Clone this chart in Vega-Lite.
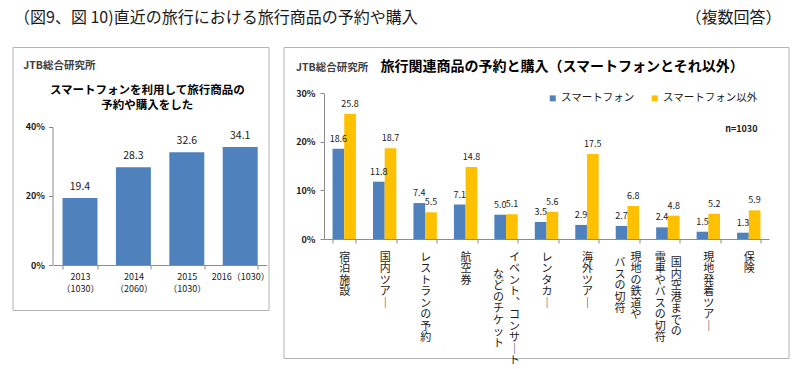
{
  "$schema": "https://vega.github.io/schema/vega-lite/v6.json",
  "padding": {"left": 11.5, "top": 8, "right": 0, "bottom": 0},
  "spacing": 19,
  "bounds": "flush",
  "resolve": {"scale": {"color": "independent"}, "legend": {"color": "independent"}},
  "config": {
    "font": "Noto Sans CJK JP",
    "view": {"stroke": null},
    "axis": {"domainColor": "#8c8c8c", "tickColor": "#8c8c8c", "labelColor": "#1a1a1a", "grid": false, "labelFont": "Noto Sans CJK JP", "titleFont": "Noto Sans CJK JP"},
    "text": {"color": "#1a1a1a"}
  },
  "vconcat": [
    {
      "width": 769,
      "height": 20,
      "layer": [
        {
          "data": {"values": [{"pos": 0, "t": "（図9、図 10)直近の旅行における旅行商品の予約や購入"}]},
          "mark": {"type": "text", "align": "left", "fontSize": 16, "dx": 1.5, "color": "#1a1a1a"},
          "encoding": {
            "x": {"field": "pos", "type": "quantitative", "scale": {"domain": [0, 1]}, "axis": null},
            "text": {"field": "t"}
          }
        },
        {
          "data": {"values": [{"pos": 1, "t": "（複数回答）"}]},
          "mark": {"type": "text", "align": "right", "fontSize": 16, "color": "#1a1a1a"},
          "encoding": {
            "x": {"field": "pos", "type": "quantitative", "scale": {"domain": [0, 1]}, "axis": null},
            "text": {"field": "t"}
          }
        }
      ]
    },
    {
      "spacing": 15,
      "bounds": "flush",
      "resolve": {"scale": {"color": "independent"}, "legend": {"color": "independent"}},
      "hconcat": [
        {
          "width": 256,
          "height": 263,
          "view": {"stroke": "#b4b4b4"},
          "title": {"text": ["スマートフォンを利用して旅行商品の", "予約や購入をした"], "fontSize": 11.5, "fontWeight": "bold", "anchor": "middle", "dx": 6.8, "offset": -64, "lineHeight": 15, "color": "#000000"},
          "data": {"values": [
            {"year": "2013（1030）", "v": 19.4},
            {"year": "2014（2060）", "v": 28.3},
            {"year": "2015（1030）", "v": 32.6},
            {"year": "2016（1030）", "v": 34.1}
          ]},
          "encoding": {
            "x": {
              "field": "year", "type": "nominal", "sort": null,
              "scale": {"range": [40.8, 254.4], "paddingInner": 0.345, "paddingOuter": 0.1725},
              "axis": {
                "title": null, "offset": -45, "tickBand": "extent", "tickSize": 4, "labelAngle": 0,
                "labelExpr": "!isValid(datum.value) ? '' : datum.value == '2016（1030）' ? datum.value : [substring(datum.value, 0, 4), substring(datum.value, 4)]",
                "labelLineHeight": 12, "labelFontSize": 9, "labelPadding": 3, "labelOverlap": false, "labelBound": false
              }
            },
            "y": {
              "field": "v", "type": "quantitative",
              "scale": {"domain": [0, 40], "range": [218, 79.7]},
              "axis": {
                "values": [0, 20, 40], "labelExpr": "datum.value + '%'", "offset": -40, "tickSize": 4, "labelPadding": 4,
                "labelFontWeight": "bold", "labelFontSize": 9,
                "title": "JTB総合研究所", "titleAngle": 0, "titleAlign": "left", "titleBaseline": "middle",
                "titleX": -29.7, "titleY": 18, "titleFontSize": 10.5, "titleFontWeight": "bold", "titleColor": "#404040"
              }
            }
          },
          "layer": [
            {"mark": {"type": "bar", "color": "#4F81BD"}},
            {"mark": {"type": "text", "dy": -11, "fontSize": 10.5, "baseline": "middle"}, "encoding": {"text": {"field": "v", "type": "quantitative", "format": ".1f"}}}
          ]
        },
        {
          "width": 505,
          "height": 311,
          "view": {"stroke": "#b4b4b4"},
          "title": {"text": "旅行関連商品の予約と購入（スマートフォンとそれ以外）", "fontSize": 14, "fontWeight": "bold", "anchor": "start", "dx": 97, "offset": -26.5, "color": "#000000"},
          "data": {"values": [
            {"cat": "宿泊施設", "series": "スマートフォン", "v": 18.6},
            {"cat": "宿泊施設", "series": "スマートフォン以外", "v": 25.8},
            {"cat": "国内ツアー", "series": "スマートフォン", "v": 11.8},
            {"cat": "国内ツアー", "series": "スマートフォン以外", "v": 18.7},
            {"cat": "レストランの予約", "series": "スマートフォン", "v": 7.4},
            {"cat": "レストランの予約", "series": "スマートフォン以外", "v": 5.5},
            {"cat": "航空券", "series": "スマートフォン", "v": 7.1},
            {"cat": "航空券", "series": "スマートフォン以外", "v": 14.8},
            {"cat": "イベント、コンサートなどのチケット", "series": "スマートフォン", "v": 5.0},
            {"cat": "イベント、コンサートなどのチケット", "series": "スマートフォン以外", "v": 5.1},
            {"cat": "レンタカー", "series": "スマートフォン", "v": 3.5},
            {"cat": "レンタカー", "series": "スマートフォン以外", "v": 5.6},
            {"cat": "海外ツアー", "series": "スマートフォン", "v": 2.9},
            {"cat": "海外ツアー", "series": "スマートフォン以外", "v": 17.5},
            {"cat": "現地の鉄道やバスの切符", "series": "スマートフォン", "v": 2.7},
            {"cat": "現地の鉄道やバスの切符", "series": "スマートフォン以外", "v": 6.8},
            {"cat": "国内空港までの電車やバスの切符", "series": "スマートフォン", "v": 2.4},
            {"cat": "国内空港までの電車やバスの切符", "series": "スマートフォン以外", "v": 4.8},
            {"cat": "現地発着ツアー", "series": "スマートフォン", "v": 1.5},
            {"cat": "現地発着ツアー", "series": "スマートフォン以外", "v": 5.2},
            {"cat": "保険", "series": "スマートフォン", "v": 1.3},
            {"cat": "保険", "series": "スマートフォン以外", "v": 5.9}
          ]},
          "encoding": {
            "y": {
              "field": "v", "type": "quantitative",
              "scale": {"domain": [0, 30], "range": [192, 46.3]},
              "axis": {
                "values": [0, 10, 20, 30], "labelExpr": "datum.value + '%'", "offset": -40.5, "tickSize": 4, "labelPadding": 5,
                "labelFontWeight": "bold", "labelFontSize": 9,
                "title": "JTB総合研究所", "titleAngle": 0, "titleAlign": "left", "titleBaseline": "middle",
                "titleX": -28.5, "titleY": 20, "titleFontSize": 10.5, "titleFontWeight": "bold", "titleColor": "#404040"
              }
            }
          },
          "resolve": {"axis": {"x": "independent"}},
          "layer": [
            {
              "mark": {"type": "bar"},
              "encoding": {
                "x": {
                  "field": "cat", "type": "nominal",
                  "sort": ["宿泊施設", "国内ツアー", "レストランの予約", "航空券", "イベント、コンサートなどのチケット", "レンタカー", "海外ツアー", "現地の鉄道やバスの切符", "国内空港までの電車やバスの切符", "現地発着ツアー", "保険"],
                  "scale": {"range": [40.5, 485.5], "paddingInner": 0.422, "paddingOuter": 0.211},
                  "axis": {
                    "orient": "bottom", "title": null, "offset": -119, "tickBand": "extent", "tickSize": 4, "labelAngle": 0, "labelBaseline": "top",
                    "labelFontSize": 11, "labelLineHeight": 11.5, "labelOverlap": false, "labelBound": false, "labelLimit": 0,
                    "labelPadding": {"condition": {"test": "datum.value == '国内空港までの電車やバスの切符'", "value": 13.75}, "value": 8},
                    "labelOffset": {"condition": {"test": "indexof(['イベント、コンサートなどのチケット', '現地の鉄道やバスの切符', '国内空港までの電車やバスの切符'], datum.value) >= 0", "value": 8}, "value": 0},
                    "labelExpr": "!isValid(datum.value) ? '' : datum.value=='宿泊施設' ? ['宿','泊','施','設'] : datum.value=='国内ツアー' ? ['国','内','ツ','ア','\uFF5C'] : datum.value=='レストランの予約' ? ['レ','ス','ト','ラ','ン','の','予','約'] : datum.value=='航空券' ? ['航','空','券'] : datum.value=='イベント、コンサートなどのチケット' ? ['イ','ベ','ン','ト','\uFE11','コ','ン','サ','\uFF5C','ト'] : datum.value=='レンタカー' ? ['レ','ン','タ','カ','\uFF5C'] : datum.value=='海外ツアー' ? ['海','外','ツ','ア','\uFF5C'] : datum.value=='現地の鉄道やバスの切符' ? ['現','地','の','鉄','道','や'] : datum.value=='国内空港までの電車やバスの切符' ? ['国','内','空','港','ま','で','の'] : datum.value=='現地発着ツアー' ? ['現','地','発','着','ツ','ア','\uFF5C'] : ['保','険']"
                  }
                },
                "xOffset": {"field": "series", "type": "nominal", "sort": ["スマートフォン", "スマートフォン以外"], "scale": {"paddingInner": 0, "paddingOuter": 0}},
                "color": {
                  "field": "series", "type": "nominal",
                  "scale": {"domain": ["スマートフォン", "スマートフォン以外"], "range": ["#4F81BD", "#FFC000"]},
                  "legend": {
                    "orient": "none", "legendX": 264, "legendY": 46, "padding": 0, "direction": "horizontal",
                    "title": "n=1030", "titleOrient": "bottom", "titleAnchor": "end", "titleFontSize": 9, "titleFontWeight": "bold", "titlePadding": 21, "titleColor": "#1a1a1a",
                    "symbolType": "square", "symbolSize": 36, "symbolStrokeWidth": 0, "labelFontSize": 10.5, "labelOffset": 3, "columnPadding": 15, "labelColor": "#1a1a1a"
                  }
                }
              }
            },
            {
              "mark": {"type": "text", "dy": -10, "fontSize": 9, "baseline": "middle"},
              "encoding": {
                "x": {
                  "field": "cat", "type": "nominal",
                  "sort": ["宿泊施設", "国内ツアー", "レストランの予約", "航空券", "イベント、コンサートなどのチケット", "レンタカー", "海外ツアー", "現地の鉄道やバスの切符", "国内空港までの電車やバスの切符", "現地発着ツアー", "保険"],
                  "axis": {
                    "orient": "bottom", "title": null, "offset": -119, "domain": false, "tickBand": "extent", "tickSize": 4, "tickOpacity": 0, "labelAngle": 0, "labelBaseline": "top",
                    "labelFontSize": 11, "labelLineHeight": 11.5, "labelOverlap": false, "labelBound": false, "labelLimit": 0, "labelOffset": -8,
                    "labelPadding": {"condition": [{"test": "datum.value == 'イベント、コンサートなどのチケット'", "value": 25.25}, {"test": "datum.value == '現地の鉄道やバスの切符'", "value": 13.75}], "value": 8},
                    "labelExpr": "datum.value=='イベント、コンサートなどのチケット' ? ['な','ど','の','チ','ケ','ッ','ト'] : datum.value=='現地の鉄道やバスの切符' ? ['バ','ス','の','切','符'] : datum.value=='国内空港までの電車やバスの切符' ? ['電','車','や','バ','ス','の','切','符'] : ''"
                  }
                },
                "xOffset": {"field": "series", "type": "nominal", "sort": ["スマートフォン", "スマートフォン以外"]},
                "text": {"field": "v", "type": "quantitative", "format": ".1f"}
              }
            }
          ]
        }
      ]
    }
  ]
}
